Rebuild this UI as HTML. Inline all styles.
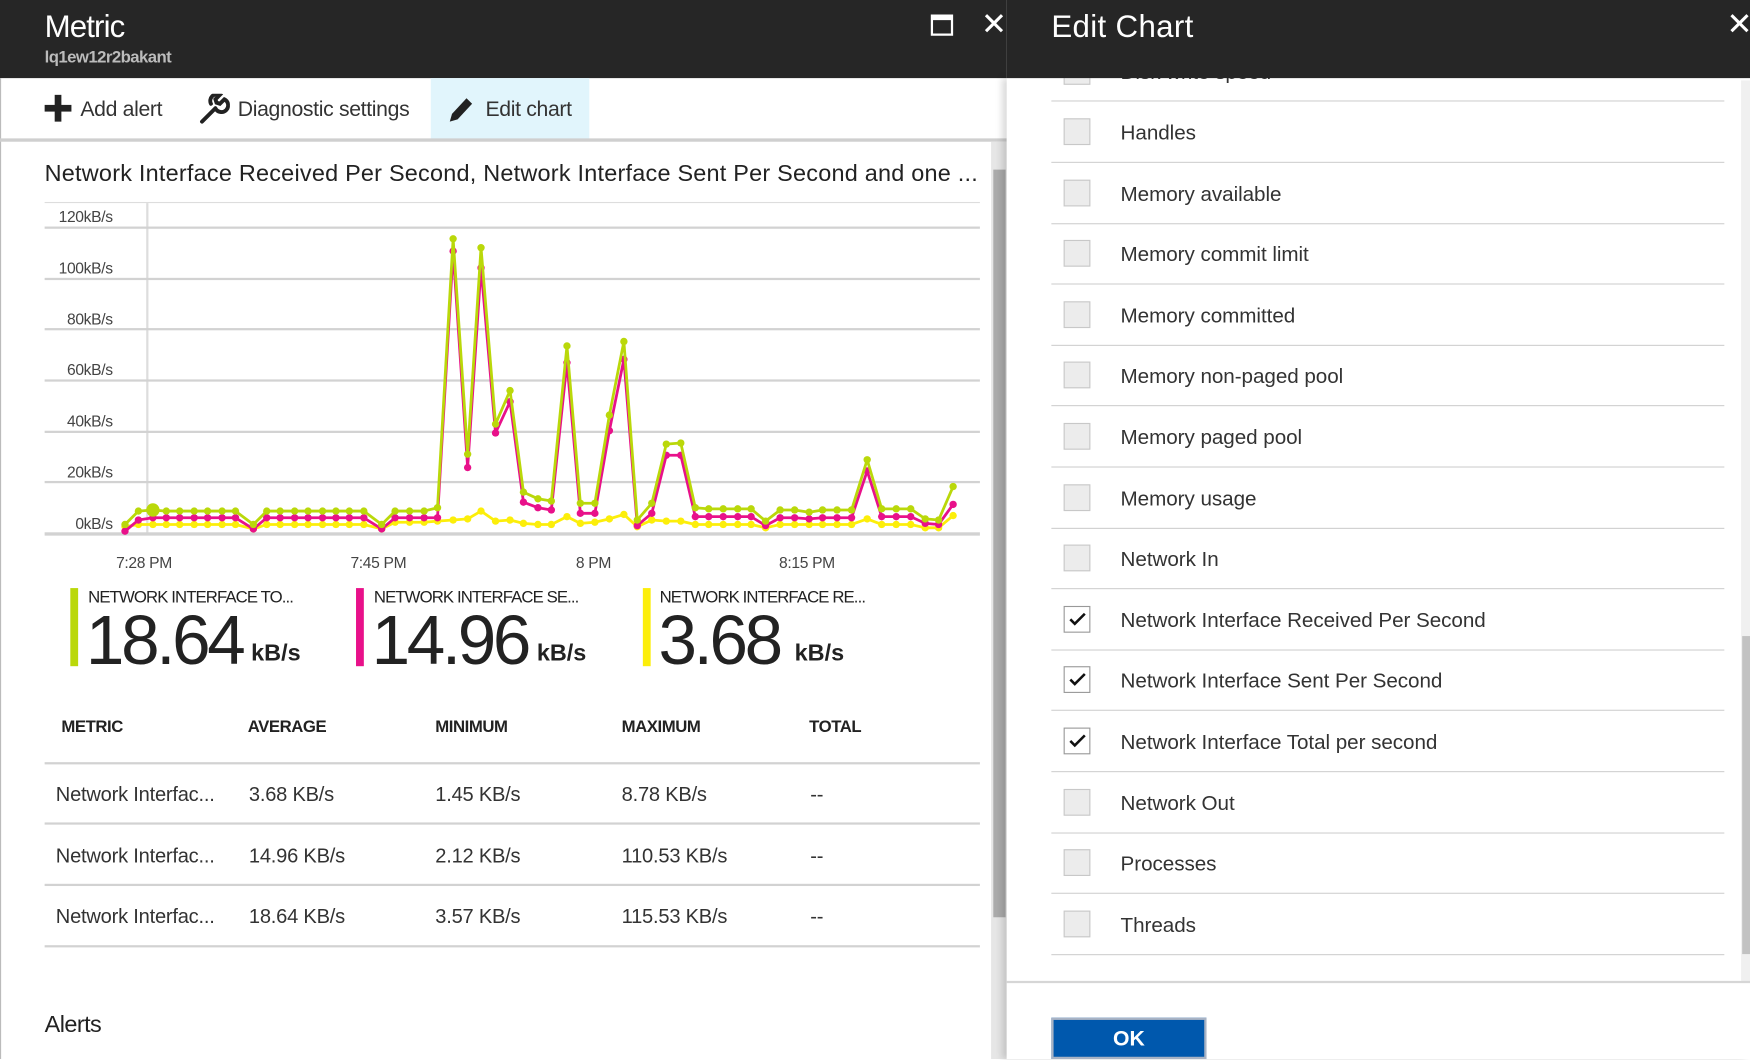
<!DOCTYPE html>
<html><head><meta charset="utf-8">
<style>
html,body{margin:0;padding:0;width:1750px;height:1059px;overflow:hidden;background:#fff}
#w{position:absolute;left:0;top:0;width:1568px;height:949px;transform:scale(1.11607,1.1159);transform-origin:0 0;font-family:"Liberation Sans",sans-serif;color:#222}
.a{position:absolute;white-space:nowrap}
.hd{background:#262626}
.row{position:absolute;left:942px;width:603px;height:1px;background:#d0d0d0}
.cb{position:absolute;left:953px;width:24px;height:24px;border:1px solid #c8c8c8;background:#ececec;box-sizing:border-box}
.cb.on{background:#fff;border-color:#999}
.lt{position:absolute;left:1004px;font-size:18.5px;color:#333;letter-spacing:-0.05px;white-space:nowrap}
.hl{position:absolute;left:40px;width:838px;height:2px;background:#d2d2d2}
.th{position:absolute;top:643px;font-size:15px;font-weight:bold;color:#222;letter-spacing:-0.4px}
.td{position:absolute;font-size:18px;color:#333;letter-spacing:-0.2px;white-space:nowrap}
.yl{position:absolute;font-size:14px;color:#444;text-align:right;width:62px;left:39px;letter-spacing:-0.3px}
.xl{position:absolute;top:496px;font-size:14px;color:#444;letter-spacing:-0.3px}
</style></head><body><div id="w">
<div class="a hd" style="left:0;top:0;width:902px;height:70px"></div>
<div class="a" style="left:40px;top:8px;font-size:28px;color:#fff;letter-spacing:-0.8px">Metric</div>
<div class="a" style="left:40px;top:43px;font-size:15px;font-weight:bold;color:#bbb;letter-spacing:-0.5px">lq1ew12r2bakant</div>
<div class="a" style="left:834px;top:13px;width:16px;height:12px;border:2px solid #fff;border-top-width:5px"></div>
<div class="a" style="left:879px;top:5px;font-size:28px;color:#fff">✕</div>
<div class="a" style="left:0;top:70px;width:1px;height:879px;background:#bbb"></div>
<div class="a" style="left:386px;top:70px;width:142px;height:55px;background:#e1f5fc"></div>
<div class="a" style="left:40px;top:85px;width:24px;height:24px">
 <div style="position:absolute;left:9px;top:0;width:6px;height:24px;background:#222"></div>
 <div style="position:absolute;left:0;top:9px;width:24px;height:6px;background:#222"></div></div>
<div class="a" style="left:72px;top:88px;font-size:19px;color:#333;letter-spacing:-0.3px">Add alert</div>
<svg class="a" style="left:178px;top:84px" width="28" height="28" viewBox="0 0 28 28"><path d="M3 25 L15 13 M15 13 a6 6 0 1 0 8-8 l-4 4 -3-1 -1-3 4-4 a6 6 0 0 0 -8 8" stroke="#222" stroke-width="3.5" fill="none" stroke-linecap="round"/></svg>
<div class="a" style="left:213px;top:88px;font-size:19px;color:#333;letter-spacing:-0.3px">Diagnostic settings</div>
<svg class="a" style="left:400px;top:84px" width="26" height="28" viewBox="0 0 26 28"><path d="M3 25 L5 18 L18 4 L23 9 L10 23 Z" fill="#222"/></svg>
<div class="a" style="left:435px;top:88px;font-size:19px;color:#333;letter-spacing:-0.3px">Edit chart</div>
<div class="a" style="left:0;top:124px;width:902px;height:3px;background:#cfcfcf"></div>
<div class="a" style="left:888px;top:127px;width:14px;height:822px;background:#e6e6e6"></div>
<div class="a" style="left:890px;top:152px;width:11px;height:670px;background:#ababab"></div>
<div class="a" style="left:40px;top:144px;font-size:21px;color:#222;letter-spacing:0.2px">Network Interface Received Per Second, Network Interface Sent Per Second and one ...</div>
<div class="a" style="left:40px;top:181px;width:838px;height:1px;background:#ddd"></div>
<div class="a" style="left:131px;top:182px;width:2px;height:296px;background:#ddd"></div>
<div class="hl" style="top:203px"></div><div class="hl" style="top:249px"></div><div class="hl" style="top:294px"></div><div class="hl" style="top:340px"></div><div class="hl" style="top:386px"></div><div class="hl" style="top:431px"></div><div class="hl" style="top:477px;height:3px"></div>
<div class="yl" style="top:186px">120kB/s</div><div class="yl" style="top:232px">100kB/s</div><div class="yl" style="top:278px">80kB/s</div><div class="yl" style="top:323px">60kB/s</div><div class="yl" style="top:369px">40kB/s</div><div class="yl" style="top:415px">20kB/s</div><div class="yl" style="top:461px">0kB/s</div>
<div class="xl" style="left:104px">7:28 PM</div><div class="xl" style="left:314px">7:45 PM</div><div class="xl" style="left:516px">8 PM</div><div class="xl" style="left:698px">8:15 PM</div>
<svg class="a" style="left:0;top:0" width="902" height="520" id="ch"></svg>
<div class="a" style="left:63px;top:527px;width:7px;height:70px;background:#bad80a"></div>
<div class="a" style="left:79px;top:527px;font-size:15px;color:#222;letter-spacing:-0.8px">NETWORK INTERFACE TO...</div>
<div class="a" style="left:77px;top:539px;font-size:62px;color:#222;letter-spacing:-3px">18.64</div>
<div class="a" style="left:225px;top:574px;font-size:21px;font-weight:bold;color:#222">kB/s</div>
<div class="a" style="left:319px;top:527px;width:7px;height:70px;background:#e8118a"></div>
<div class="a" style="left:335px;top:527px;font-size:15px;color:#222;letter-spacing:-0.8px">NETWORK INTERFACE SE...</div>
<div class="a" style="left:333px;top:539px;font-size:62px;color:#222;letter-spacing:-3px">14.96</div>
<div class="a" style="left:481px;top:574px;font-size:21px;font-weight:bold;color:#222">kB/s</div>
<div class="a" style="left:576px;top:527px;width:7px;height:70px;background:#fcee0a"></div>
<div class="a" style="left:591px;top:527px;font-size:15px;color:#222;letter-spacing:-0.8px">NETWORK INTERFACE RE...</div>
<div class="a" style="left:590px;top:539px;font-size:62px;color:#222;letter-spacing:-3px">3.68</div>
<div class="a" style="left:712px;top:574px;font-size:21px;font-weight:bold;color:#222">kB/s</div>
<div class="th" style="left:55px">METRIC</div><div class="th" style="left:222px">AVERAGE</div><div class="th" style="left:390px">MINIMUM</div><div class="th" style="left:557px">MAXIMUM</div><div class="th" style="left:725px">TOTAL</div>
<div class="hl" style="top:683px"></div><div class="hl" style="top:737px"></div><div class="hl" style="top:792px"></div><div class="hl" style="top:847px"></div>
<div class="td" style="left:50px;top:702px">Network Interfac...</div><div class="td" style="left:223px;top:702px">3.68 KB/s</div><div class="td" style="left:390px;top:702px">1.45 KB/s</div><div class="td" style="left:557px;top:702px">8.78 KB/s</div><div class="td" style="left:726px;top:702px">--</div>
<div class="td" style="left:50px;top:757px">Network Interfac...</div><div class="td" style="left:223px;top:757px">14.96 KB/s</div><div class="td" style="left:390px;top:757px">2.12 KB/s</div><div class="td" style="left:557px;top:757px">110.53 KB/s</div><div class="td" style="left:726px;top:757px">--</div>
<div class="td" style="left:50px;top:811px">Network Interfac...</div><div class="td" style="left:223px;top:811px">18.64 KB/s</div><div class="td" style="left:390px;top:811px">3.57 KB/s</div><div class="td" style="left:557px;top:811px">115.53 KB/s</div><div class="td" style="left:726px;top:811px">--</div>
<div class="a" style="left:40px;top:907px;font-size:21px;color:#222;letter-spacing:-0.5px">Alerts</div>
<div class="a" style="left:902px;top:70px;width:666px;height:879px;background:#fff;box-shadow:-4px 0 6px rgba(0,0,0,0.15)"></div>
<div class="cb" style="top:52px"></div><div class="lt" style="top:54px">Disk write speed</div>
<div class="a hd" style="left:902px;top:0;width:666px;height:70px"></div>
<div class="a" style="left:942px;top:8px;font-size:28px;color:#fff;letter-spacing:0.3px">Edit Chart</div>
<div class="a" style="left:1547px;top:5px;font-size:28px;color:#fff">✕</div>
<div id="rows"></div>
<div class="a" style="left:1560px;top:72px;width:8px;height:808px;background:#f0f0f0"></div>
<div class="a" style="left:1561px;top:570px;width:7px;height:285px;background:#c2c2c2"></div>
<div class="a" style="left:902px;top:879px;width:666px;height:2px;background:#d6d6d6"></div>
<div class="a" style="left:942px;top:912px;width:139px;height:37px;background:#0058ad;border:2px solid #a9b3c4;box-sizing:border-box;color:#fff;font-weight:bold;font-size:19px;text-align:center;line-height:36px">OK</div>
</div>
<script>
var names=["Handles","Memory available","Memory commit limit","Memory committed","Memory non-paged pool","Memory paged pool","Memory usage","Network In","Network Interface Received Per Second","Network Interface Sent Per Second","Network Interface Total per second","Network Out","Processes","Threads"];
var h='<div class="row" style="top:90px"></div>';
for(var i=0;i<names.length;i++){var c=118+i*54.6;var on=(i>=8&&i<=10);
h+='<div class="cb'+(on?' on':'')+'" style="top:'+(c-12)+'px">'+(on?'<svg width="22" height="22" style="position:absolute;left:0;top:0"><path d="M5 11 L9 15 L18 6" stroke="#111" stroke-width="2.3" fill="none"/></svg>':'')+'</div>';
h+='<div class="lt" style="top:'+(c-10)+'px">'+names[i]+'</div>';
h+='<div class="row" style="top:'+(c+27)+'px"></div>';}
document.getElementById('rows').innerHTML=h;
var X=[112,124,137,149,161,174,186,199,211,227,239,251,264,276,289,301,313,326,342,354,367,380,392,406,419,431,444,457,469,482,494,508,520,533,546,559,571,584,597,610,623,635,648,661,673,686,699,712,725,737,750,763,777,790,803,816,829,841,854];
var G=[470,458,457,458,458,458,458,458,458,470,458,458,458,458,458,458,458,458,470,458,458,458,455,214,407,222,380,350,441,447,449,310,451,451,372,306,466,451,398,397,455,456,456,456,456,467,457,457,459,457,457,457,412,456,456,456,465,466,436];
var M=[476,466,464,464,464,464,464,464,464,474,464,464,464,464,464,464,464,464,474,464,464,464,464,225,419,240,388,360,450,455,457,325,460,460,386,322,471,460,408,408,463,463,463,463,463,471,464,464,465,464,464,464,422,463,463,463,469,470,452];
var Y=[472,470,470,470,470,470,470,470,470,474,470,470,470,470,470,470,470,470,474,468,468,468,467,466,465,458,467,466,469,470,470,463,469,468,465,461,472,466,467,467,470,470,470,470,470,473,470,470,470,470,470,470,465,470,470,470,473,473,462];
function s(arr,col){var p='',d='';for(var i=0;i<X.length;i++){p+=X[i]+','+arr[i]+' ';d+='<circle cx="'+X[i]+'" cy="'+arr[i]+'" r="3.3" fill="'+col+'"/>';}
return '<polyline points="'+p+'" fill="none" stroke="'+col+'" stroke-width="2.5" stroke-linejoin="round"/>'+d;}
document.getElementById('ch').innerHTML=s(Y,'#fcee0a')+s(M,'#e8118a')+s(G,'#bad80a')+'<circle cx="137" cy="457" r="6" fill="#bad80a"/>';
</script>
</body></html>
